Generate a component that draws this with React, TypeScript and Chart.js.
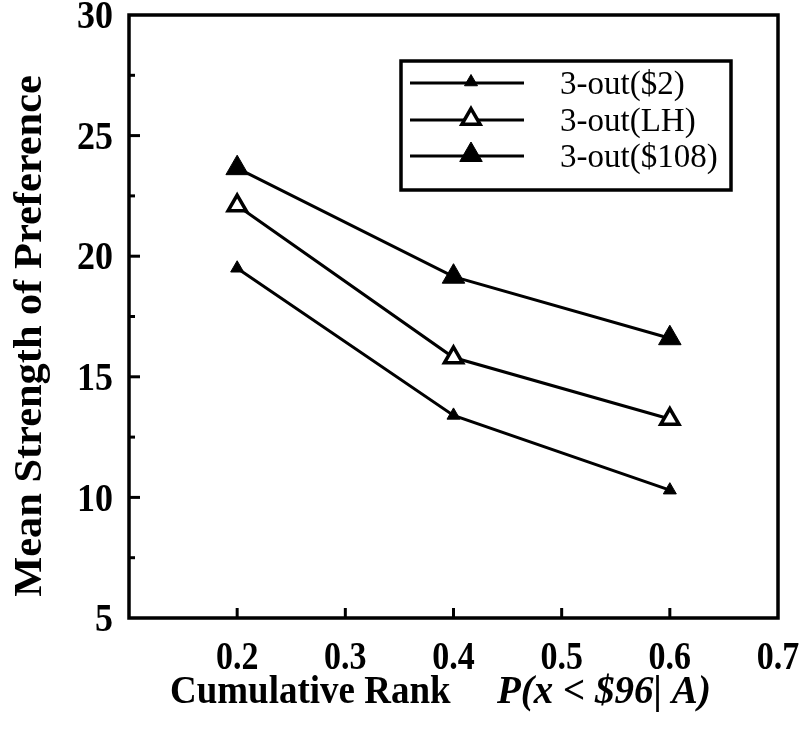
import React, { useEffect, useRef } from "react";
import { Chart, registerables } from "chart.js";

Chart.register(...registerables);

const xValues = [0.2, 0.4, 0.6];
const seriesLabels = ["3-out($2)", "3-out(LH)", "3-out($108)"];
const series2 = [19.5, 13.4, 10.3];
const seriesLH = [22.1, 15.8, 13.25];
const series108 = [23.65, 19.15, 16.6];
const xTickLabels = ["", "0.2", "0.3", "0.4", "0.5", "0.6", "0.7"];
const yTickLabels = ["5", "10", "15", "20", "25", "30"];
const xTitle = "Cumulative Rank";
const xTitleMath = "P(x < $96| A)";
const yTitle = "Mean Strength of Preference";

const SERIF = "'Liberation Serif', 'Times New Roman', serif";

function stretchedText(ctx: CanvasRenderingContext2D, text: string, x: number, y: number, font: string, align: CanvasTextAlign, sy: number) {
  ctx.save();
  ctx.translate(x, y);
  ctx.scale(1, sy);
  ctx.font = font;
  ctx.textAlign = align;
  ctx.textBaseline = "middle";
  ctx.fillStyle = "#000";
  ctx.fillText(text, 0, 0);
  ctx.restore();
}

function drawTri(ctx: CanvasRenderingContext2D, x: number, y: number, r: number, fill: string, bw: number) {
  ctx.save();
  ctx.beginPath();
  let rad = 0;
  for (let k = 0; k < 3; k++) {
    const px = x + Math.sin(rad) * r;
    const py = y - Math.cos(rad) * r;
    if (k === 0) ctx.moveTo(px, py); else ctx.lineTo(px, py);
    rad += (2 * Math.PI) / 3;
  }
  ctx.closePath();
  ctx.fillStyle = fill;
  ctx.fill();
  ctx.lineWidth = bw;
  ctx.strokeStyle = "#000";
  ctx.stroke();
  ctx.restore();
}

const framePlugin = {
  id: "framePlugin",
  afterDraw(chart: any) {
    const ctx: CanvasRenderingContext2D = chart.ctx;
    const { left, right, top, bottom } = chart.chartArea;
    const xs = chart.scales.x;
    const ys = chart.scales.y;
    ctx.save();
    ctx.strokeStyle = "#000";
    ctx.lineWidth = 3.5;
    ctx.strokeRect(left, top, right - left, bottom - top);
    ctx.lineWidth = 3;
    ys.ticks.forEach((t: any, i: number) => {
      const py = ys.getPixelForValue(t.value);
      if (t.value > ys.min && t.value < ys.max) {
        ctx.beginPath();
        ctx.moveTo(left, py);
        ctx.lineTo(left + 11, py);
        ctx.stroke();
      }
      if (i < ys.ticks.length - 1) {
        const pm = ys.getPixelForValue(t.value + 2.5);
        ctx.beginPath();
        ctx.moveTo(left, pm);
        ctx.lineTo(left + 6, pm);
        ctx.stroke();
      }
      stretchedText(ctx, yTickLabels[i] ?? String(t.value), left - 16, py + 3, `bold 36px ${SERIF}`, "right", 1.1);
    });
    xs.ticks.forEach((t: any, i: number) => {
      const px = xs.getPixelForValue(t.value);
      if (t.value > xs.min + 1e-9 && t.value < xs.max - 1e-9) {
        ctx.beginPath();
        ctx.moveTo(px, bottom);
        ctx.lineTo(px, bottom - 10);
        ctx.stroke();
      }
      const lab = xTickLabels[i] ?? "";
      if (lab) stretchedText(ctx, lab, px, bottom + 41, `bold 34px ${SERIF}`, "center", 1.15);
    });
    stretchedText(ctx, xTitle, 170, 692, `bold 37px ${SERIF}`, "left", 1.1);
    stretchedText(ctx, xTitleMath, 497, 692, `italic bold 39px ${SERIF}`, "left", 1.05);
    ctx.save();
    ctx.translate(31, 336);
    ctx.rotate(-Math.PI / 2);
    ctx.scale(1.06, 1);
    ctx.font = `bold 40px ${SERIF}`;
    ctx.textAlign = "center";
    ctx.textBaseline = "middle";
    ctx.fillStyle = "#000";
    ctx.fillText(yTitle, 0, 0);
    ctx.restore();
    const bx = 401, by = 61, bw = 330, bh = 129;
    ctx.lineWidth = 3.5;
    ctx.strokeStyle = "#000";
    ctx.strokeRect(bx, by, bw, bh);
    const rowsY = [83, 120, 156];
    chart.data.datasets.forEach((ds: any, i: number) => {
      const yy = rowsY[i];
      ctx.lineWidth = 3;
      ctx.strokeStyle = "#000";
      ctx.beginPath();
      ctx.moveTo(410, yy);
      ctx.lineTo(524, yy);
      ctx.stroke();
      drawTri(ctx, 471, yy - 1, ds.pointRadius, ds.pointBackgroundColor, ds.pointBorderWidth);
      ctx.fillStyle = "#000";
      ctx.font = `33px ${SERIF}`;
      ctx.textAlign = "left";
      ctx.textBaseline = "middle";
      ctx.fillText(ds.label, 560, yy + 2);
    });
    ctx.restore();
  },
};

export default function App() {
  const ref = useRef<HTMLCanvasElement>(null);
  useEffect(() => {
    const mk = (data: number[]) => xValues.map((x, i) => ({ x, y: data[i] }));
    const base = {
      borderColor: "#000",
      borderWidth: 3,
      pointStyle: "triangle",
      pointBorderColor: "#000",
      showLine: true,
      tension: 0,
    };
    const chart = new Chart(ref.current!, {
      type: "scatter",
      data: {
        datasets: [
          { ...base, label: seriesLabels[0], data: mk(series2), pointRadius: 7.5, pointBackgroundColor: "#000", pointBorderWidth: 1 },
          { ...base, label: seriesLabels[1], data: mk(seriesLH), pointRadius: 10.5, pointBackgroundColor: "#fff", pointBorderWidth: 3.5 },
          { ...base, label: seriesLabels[2], data: mk(series108), pointRadius: 13, pointBackgroundColor: "#000", pointBorderWidth: 1 },
        ],
      },
      options: {
        animation: false,
        responsive: false,
        layout: { padding: { left: 129, top: 15, right: 25, bottom: 120 } },
        plugins: { legend: { display: false }, tooltip: { enabled: false } },
        scales: {
          x: {
            type: "linear",
            min: 0.1,
            max: 0.7,
            ticks: { display: false, stepSize: 0.1 },
            grid: { display: false },
            border: { display: false },
            afterFit: (s: any) => { s.height = 0; },
          },
          y: {
            type: "linear",
            min: 5,
            max: 30,
            ticks: { display: false, stepSize: 5 },
            grid: { display: false },
            border: { display: false },
            afterFit: (s: any) => { s.width = 0; },
          },
        },
      },
      plugins: [framePlugin],
    } as any);
    return () => chart.destroy();
  }, []);
  return (
    <div style={{ position: "absolute", left: 0, top: 0, width: 803, height: 738, background: "#fff" }}>
      <canvas ref={ref} width={803} height={738} />
    </div>
  );
}
